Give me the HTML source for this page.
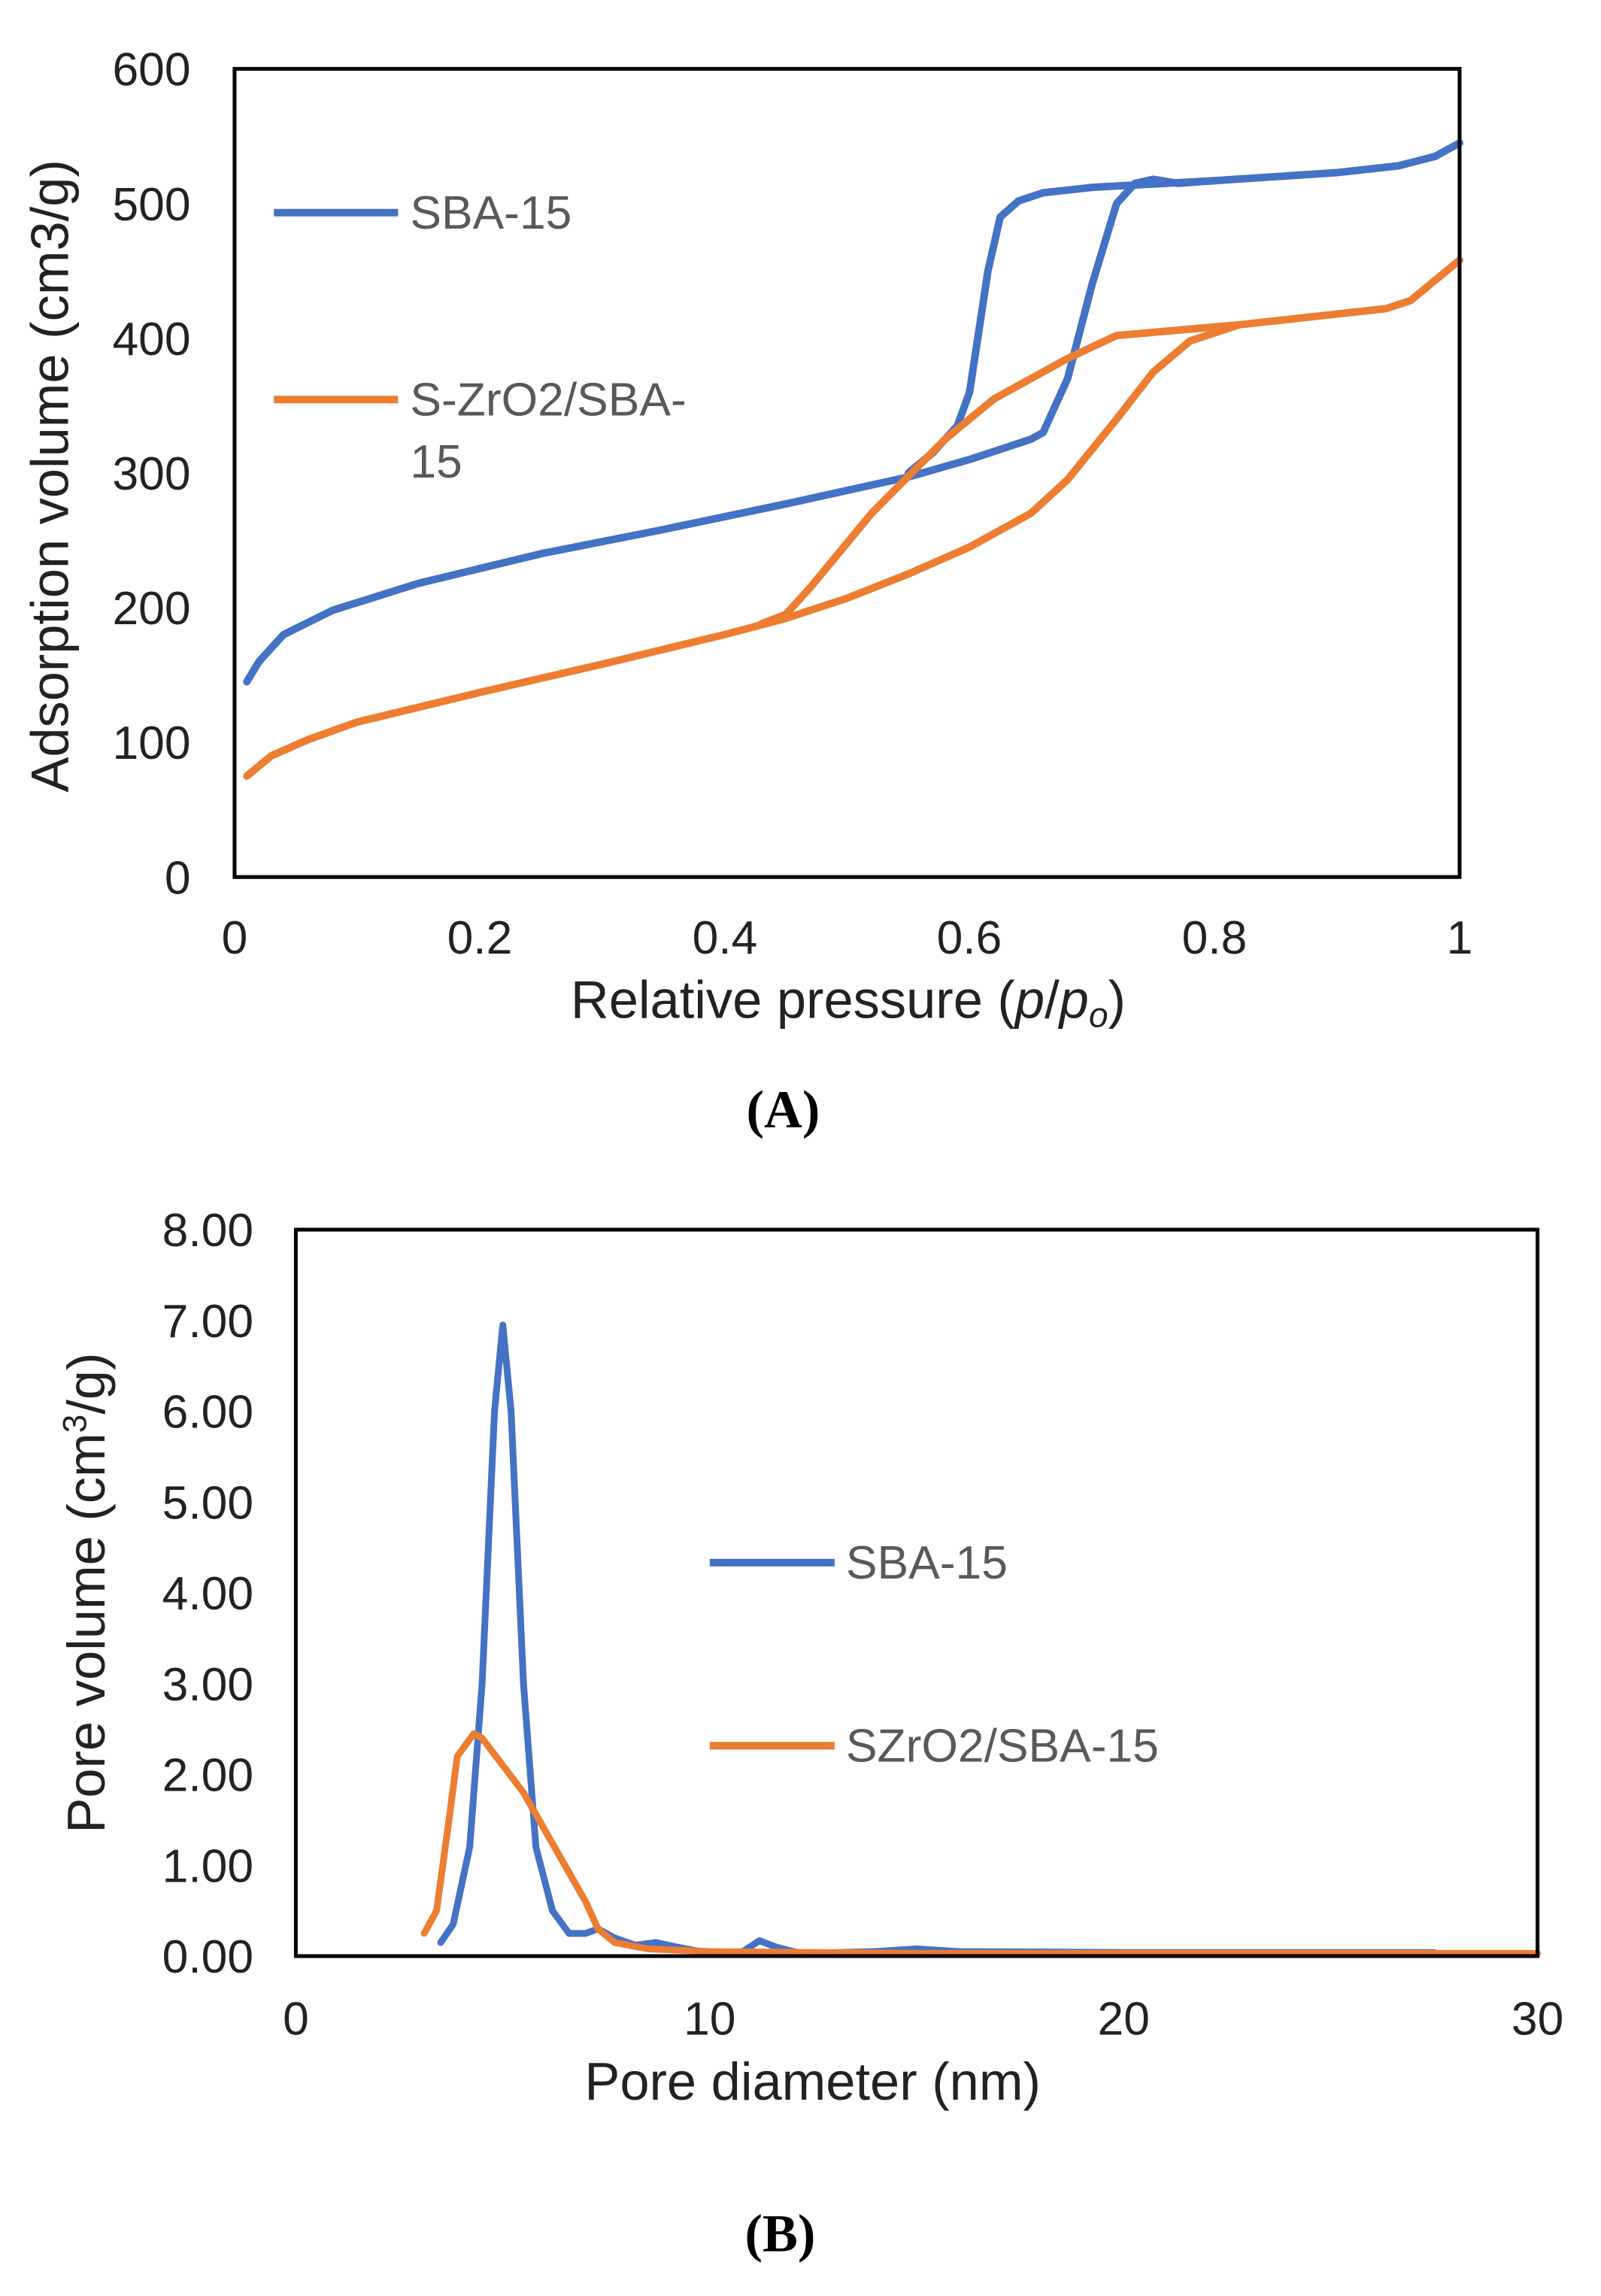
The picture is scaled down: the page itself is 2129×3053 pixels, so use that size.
<!DOCTYPE html>
<html><head><meta charset="utf-8"><style>
html,body{margin:0;padding:0;background:#fff;}
svg{display:block;}
text{font-family:"Liberation Sans",sans-serif;}
</style></head><body>
<svg width="2129" height="3053" viewBox="0 0 2129 3053" xmlns="http://www.w3.org/2000/svg">
<g transform="scale(1.0062)">
<!-- Chart A -->
<g fill="#222" font-size="62" text-anchor="end">
<text x="252" y="113">600</text><text x="252" y="291">500</text><text x="252" y="469">400</text>
<text x="252" y="647">300</text><text x="252" y="825">200</text><text x="252" y="1003">100</text><text x="252" y="1181">0</text>
</g>
<g fill="#222" font-size="62" text-anchor="middle">
<text x="310" y="1260">0</text><text x="634" y="1260">0.2</text><text x="958" y="1260">0.4</text>
<text x="1281" y="1260">0.6</text><text x="1605" y="1260">0.8</text><text x="1929" y="1260">1</text>
</g>
<text x="1121" y="1345" font-size="70" fill="#222" text-anchor="middle">Relative pressure (<tspan font-style="italic">p</tspan>/<tspan font-style="italic">p</tspan><tspan font-style="italic" font-size="46" dy="12">o</tspan><tspan dy="-12">)</tspan></text>
<text transform="translate(90,629) rotate(-90)" font-size="70" fill="#222" text-anchor="middle">Adsorption volume (cm3/g)</text>
<g transform="translate(310,1159) scale(1619,-1.78)" fill="none" stroke-linejoin="round" stroke-linecap="round">
<polyline vector-effect="non-scaling-stroke" stroke="#4472C4" stroke-width="10" points="0.01,145 0.02,160 0.04,180 0.08,198 0.15,218 0.25,240 0.35,258 0.45,277 0.55,297 0.6,310 0.65,325 0.66,330 0.68,370 0.70,440 0.72,500 0.735,515 0.75,518 0.77,515 0.8,517 0.9,523 0.95,528 0.98,535 1.0,545"/>
<polyline vector-effect="non-scaling-stroke" stroke="#4472C4" stroke-width="10" points="0.8,517 0.7,512 0.66,508 0.64,502 0.625,490 0.615,450 0.6,360 0.59,335 0.57,315 0.55,300"/>
<polyline vector-effect="non-scaling-stroke" stroke="#ED7D31" stroke-width="10" points="0.01,75 0.03,90 0.06,102 0.1,115 0.2,137 0.3,158 0.4,180 0.45,192 0.5,207 0.55,225 0.6,245 0.65,270 0.68,295 0.72,340 0.75,375 0.78,398 0.82,410 0.9,418 0.94,422 0.96,428 1.0,458"/>
<polyline vector-effect="non-scaling-stroke" stroke="#ED7D31" stroke-width="10" points="0.82,410 0.72,402 0.68,385 0.62,355 0.58,325 0.52,270 0.47,215 0.45,195 0.43,188"/>
</g>
<rect x="310" y="91" width="1619" height="1068" fill="none" stroke="#000" stroke-width="5"/>
<line x1="362" y1="281" x2="526" y2="281" stroke="#4472C4" stroke-width="10"/>
<text x="542" y="302" font-size="62" fill="#595959">SBA-15</text>
<line x1="362" y1="528" x2="526" y2="528" stroke="#ED7D31" stroke-width="10"/>
<text x="542" y="549" font-size="62" fill="#595959">S-ZrO2/SBA-</text>
<text x="542" y="631" font-size="62" fill="#595959">15</text>
<text x="1035" y="1490" font-size="70" font-weight="bold" text-anchor="middle" style="font-family:'Liberation Serif',serif">(A)</text>

<!-- Chart B -->
<g fill="#222" font-size="62" text-anchor="end">
<text x="335" y="1647">8.00</text><text x="335" y="1767">7.00</text><text x="335" y="1887">6.00</text>
<text x="335" y="2007">5.00</text><text x="335" y="2127">4.00</text><text x="335" y="2247">3.00</text>
<text x="335" y="2367">2.00</text><text x="335" y="2487">1.00</text><text x="335" y="2607">0.00</text>
</g>
<g fill="#222" font-size="62" text-anchor="middle">
<text x="391" y="2689">0</text><text x="938" y="2689">10</text><text x="1485" y="2689">20</text><text x="2032" y="2689">30</text>
</g>
<text x="1074" y="2775" font-size="70" fill="#222" text-anchor="middle">Pore diameter (nm)</text>
<text transform="translate(138,2105) rotate(-90)" font-size="70" fill="#222" text-anchor="middle">Pore volume (cm<tspan font-size="44" dy="-24">3</tspan><tspan dy="24">/g)</tspan></text>
<g transform="translate(391,2585) scale(54.7,-120)" fill="none" stroke-linejoin="round" stroke-linecap="round">
<polyline vector-effect="non-scaling-stroke" stroke="#4472C4" stroke-width="9" points="3.5,0.15 3.8,0.35 4.2,1.2 4.5,3 4.8,6 5.0,6.95 5.2,6 5.5,3 5.8,1.2 6.2,0.5 6.6,0.25 7,0.25 7.3,0.3 7.7,0.2 8.2,0.12 8.7,0.15 9.2,0.1 10,0.03 10.8,0.05 11.2,0.17 11.6,0.1 12.2,0.03 14,0.05 15,0.08 16,0.05 20,0.04 27.5,0.04"/>
<polyline vector-effect="non-scaling-stroke" stroke="#ED7D31" stroke-width="9" points="3.1,0.25 3.4,0.5 3.7,1.5 3.9,2.2 4.3,2.45 4.5,2.4 5,2.1 5.5,1.8 6,1.4 6.5,1.0 7,0.6 7.3,0.3 7.7,0.15 8.5,0.08 10,0.05 15,0.03 30,0.03"/>
</g>
<rect x="391" y="1625" width="1641" height="960" fill="none" stroke="#000" stroke-width="5"/>
<line x1="938" y1="2065" x2="1103" y2="2065" stroke="#4472C4" stroke-width="10"/>
<text x="1118" y="2086" font-size="62" fill="#595959">SBA-15</text>
<line x1="938" y1="2307" x2="1103" y2="2307" stroke="#ED7D31" stroke-width="10"/>
<text x="1118" y="2328" font-size="62" fill="#595959">SZrO2/SBA-15</text>
<text x="1031" y="2975" font-size="70" font-weight="bold" text-anchor="middle" style="font-family:'Liberation Serif',serif">(B)</text>
</g>
</svg>
</body></html>
